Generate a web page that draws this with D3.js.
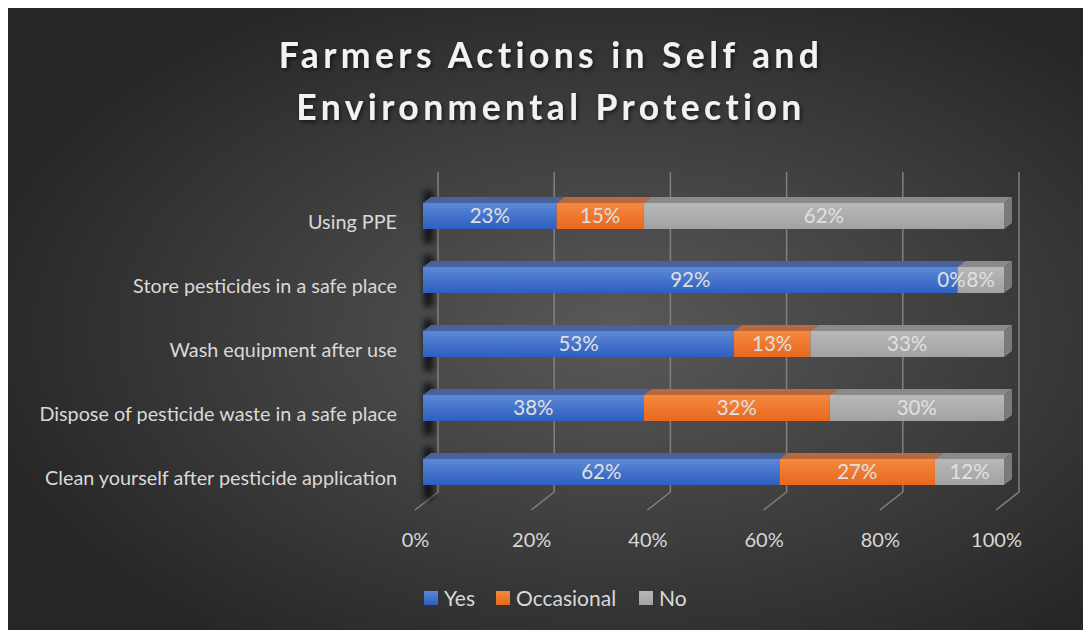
<!DOCTYPE html>
<html>
<head>
<meta charset="utf-8">
<script src="https://cdn.jsdelivr.net/npm/d3@7"></script>
<style>
  body { margin: 0; background: #fff; }
  svg { display: block; }
  text { font-family: Lato, "Open Sans", sans-serif; }
</style>
</head>
<body>
<script>
// chart data
var categories = ["Using PPE", "Store pesticides in a safe place", "Wash equipment after use",
                  "Dispose of pesticide waste in a safe place", "Clean yourself after pesticide application"];
var seriesNames = ["Yes", "Occasional", "No"];
var yes = [23, 92, 53, 38, 62];
var occasional = [15, 0, 13, 32, 27];
var no = [62, 8, 33, 30, 12];
var tickValues = [0, 0.2, 0.4, 0.6, 0.8, 1];

var W = 1083, H = 630;
var colors = {
  Yes: { top: "#5c88d8", bot: "#2e5fbf", lid: "#46639e", side: "#2b4a8a" },
  Occasional: { top: "#f6893f", bot: "#e8681d", lid: "#b86a3e", side: "#a9541f" },
  No: { top: "#b8b8b8", bot: "#a2a2a2", lid: "#8a8a8a", side: "#7a7a7a" }
};

var svg = d3.select("body").append("svg").attr("width", W).attr("height", H);
var defs = svg.append("defs");

// background gradient
var bg = defs.append("radialGradient").attr("id", "bg")
  .attr("cx", "57%").attr("cy", "52%").attr("r", "62%");
bg.append("stop").attr("offset", "0%").attr("stop-color", "#595959");
bg.append("stop").attr("offset", "100%").attr("stop-color", "#262626");

seriesNames.forEach(function(s) {
  var g = defs.append("linearGradient").attr("id", "g" + s)
    .attr("x1", 0).attr("y1", 0).attr("x2", 0).attr("y2", 1);
  g.append("stop").attr("offset", "0%").attr("stop-color", colors[s].top);
  g.append("stop").attr("offset", "100%").attr("stop-color", colors[s].bot);
});

defs.append("filter").attr("id", "blur").attr("x", "-100%").attr("width", "300%")
  .append("feGaussianBlur").attr("stdDeviation", 3);

var tf = defs.append("filter").attr("id", "tshadow");
tf.append("feDropShadow").attr("dx", 1.5).attr("dy", 2).attr("stdDeviation", 2)
  .attr("flood-color", "#000").attr("flood-opacity", 0.6);

svg.append("rect").attr("x", 8).attr("y", 8).attr("width", W - 8).attr("height", H - 8)
  .attr("fill", "url(#bg)");

// title
var title = svg.append("text").attr("text-anchor", "middle")
  .attr("fill", "#f2f2f2").attr("font-size", 35.5).attr("font-weight", "bold")
  .attr("letter-spacing", 4.4).attr("filter", "url(#tshadow)");
title.append("tspan").attr("x", 551).attr("y", 68).text("Farmers Actions in Self and");
title.append("tspan").attr("x", 551).attr("y", 120).text("Environmental Protection");

// scales (x = front edge of the floor)
var x = d3.scaleLinear().domain([0, 1]).range([415, 996]);
var y = d3.scalePoint().domain(categories).range([216, 472]);
var wallDx = 23, wallDy = -18;   // depth of the back wall
var barOff = 8;                  // bar front sits a bit behind the floor front
var bdx = 8, bdy = -6;           // bar depth
var barH = 26;
var floorY = 510, wallTop = 172;

// wall gridlines and floor lines
var grid = svg.append("g").attr("stroke", "#808080").attr("stroke-width", 1.5).attr("fill", "none");
tickValues.forEach(function(t) {
  var xb = x(t) + wallDx;
  grid.append("path").attr("d", "M" + xb + "," + wallTop + "V" + (floorY + wallDy) +
    "L" + x(t) + "," + floorY);
});

// stack data, normalized to 100%
var rows = categories.map(function(c, i) {
  return { cat: c, Yes: yes[i], Occasional: occasional[i], No: no[i] };
});
var stack = d3.stack().keys(seriesNames).offset(d3.stackOffsetExpand);
var layers = stack(rows);

// soft shadows at the left of each bar
svg.append("g").selectAll("rect").data(categories).join("rect")
  .attr("x", x(0) + barOff + 1).attr("y", function(d) { return y(d) - barH / 2 - 12; })
  .attr("width", 9).attr("height", barH + 26)
  .attr("fill", "#000").attr("opacity", 0.75).attr("filter", "url(#blur)");

var bars = svg.append("g");
layers.forEach(function(layer) {
  var s = layer.key;
  var g = bars.append("g");
  layer.forEach(function(d, i) {
    var x0 = x(d[0]) + barOff, x1 = x(d[1]) + barOff;
    var yt = y(categories[i]) - barH / 2;
    if (x1 - x0 <= 0) return;
    // top face
    g.append("path").attr("fill", colors[s].lid)
      .attr("d", "M" + x0 + "," + yt + "L" + (x0 + bdx) + "," + (yt + bdy) +
        "L" + (x1 + bdx) + "," + (yt + bdy) + "L" + x1 + "," + yt + "Z");
    // front face
    g.append("rect").attr("x", x0).attr("y", yt).attr("width", x1 - x0).attr("height", barH)
      .attr("fill", "url(#g" + s + ")");
    // right side on the last segment
    if (d[1] >= 0.9999) {
      g.append("path").attr("fill", colors[s].side)
        .attr("d", "M" + x1 + "," + yt + "L" + (x1 + bdx) + "," + (yt + bdy) +
          "L" + (x1 + bdx) + "," + (yt + bdy + barH) + "L" + x1 + "," + (yt + barH) + "Z");
    }
  });
});

// data labels
var labels = svg.append("g").attr("fill", "#e0e0e0").attr("font-size", 20.5).attr("text-anchor", "middle");
layers.forEach(function(layer) {
  layer.forEach(function(d, i) {
    var cx = (x(d[0]) + x(d[1])) / 2 + barOff;
    if (d[1] - d[0] === 0) cx -= 6;
    labels.append("text")
      .attr("x", cx)
      .attr("y", y(categories[i]))
      .attr("dy", "0.36em")
      .text(rows[i][layer.key] + "%");
  });
});

// category axis
var yAxis = svg.append("g").attr("transform", "translate(397,6)")
  .call(d3.axisLeft(y).tickSize(0).tickPadding(0));
yAxis.select(".domain").remove();
yAxis.selectAll("text").attr("fill", "#d9d9d9").attr("font-size", 19.8)
  .attr("font-family", "Lato, sans-serif");

// value axis
var xAxis = svg.append("g").attr("transform", "translate(0," + floorY + ")")
  .call(d3.axisBottom(x).tickValues(tickValues).tickFormat(d3.format(".0%")).tickSize(0).tickPadding(23));
xAxis.select(".domain").remove();
xAxis.selectAll("text").attr("fill", "#d9d9d9").attr("font-size", 20)
  .attr("font-family", "Lato, sans-serif");

// legend
var legendX = [424, 496, 639];
var legend = svg.append("g").selectAll("g").data(seriesNames).join("g")
  .attr("transform", function(d, i) { return "translate(" + legendX[i] + ",591)"; });
legend.append("rect").attr("width", 14).attr("height", 14)
  .attr("fill", function(d) { return "url(#g" + d + ")"; });
legend.append("text").attr("x", 20).attr("y", 7).attr("dy", "0.36em")
  .attr("fill", "#d9d9d9").attr("font-size", 21).text(function(d) { return d; });
</script>
</body>
</html>
